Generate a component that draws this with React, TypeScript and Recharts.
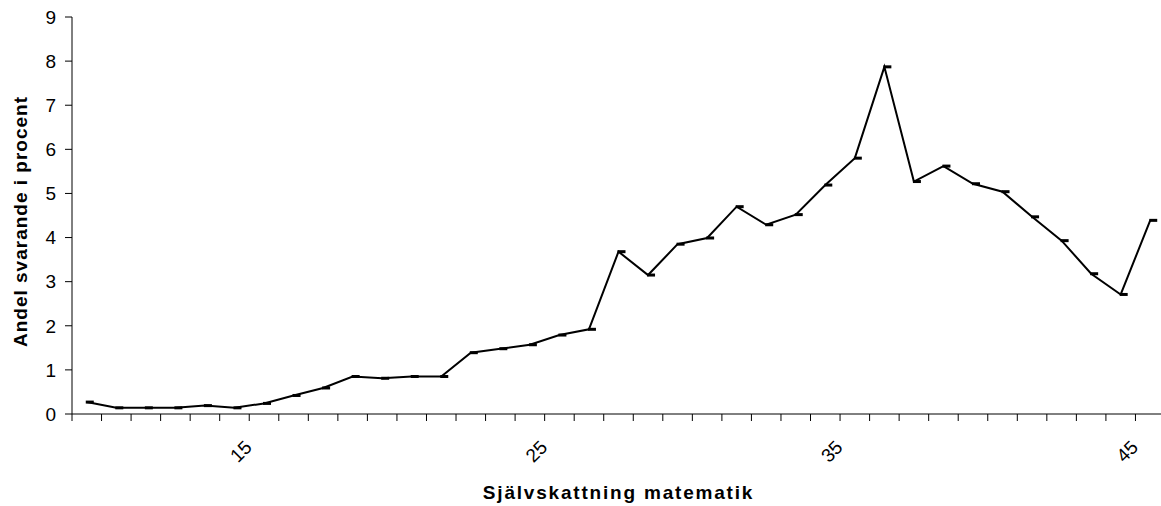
import React from "react";
import { LineChart, Line, XAxis, YAxis, Label } from "recharts";

// Självskattning matematik (categories) and share of respondents in percent
const scores = [
  10, 11, 12, 13, 14, 15, 16, 17, 18, 19, 20, 21, 22, 23, 24, 25, 26, 27, 28,
  29, 30, 31, 32, 33, 34, 35, 36, 37, 38, 39, 40, 41, 42, 43, 44, 45, 46,
];
const shares = [
  0.27, 0.14, 0.14, 0.14, 0.19, 0.14, 0.24, 0.42, 0.59, 0.85, 0.81, 0.85, 0.85,
  1.39, 1.48, 1.57, 1.79, 1.92, 3.68, 3.15, 3.85, 3.99, 4.7, 4.29, 4.52, 5.19,
  5.8, 7.87, 5.27, 5.62, 5.22, 5.04, 4.47, 3.93, 3.18, 2.71, 4.39,
];
const xLabels = [15, 25, 35, 45];
const yTicks = [0, 1, 2, 3, 4, 5, 6, 7, 8, 9];

const data = scores.map((s, i) => ({ score: s, share: shares[i] }));

// tick marks sit on the category borders, labels in the middle
const borders = [...scores.map((s) => s - 0.5), scores[scores.length - 1] + 0.5];
const xTicks = [...borders, ...xLabels];

const FONT = "'Liberation Sans', Arial, sans-serif";
const TICK = 7;

const XTick = (props: any) => {
  const { x, y, payload } = props;
  const v = payload.value;
  if (v % 1 !== 0) {
    return <line x1={x} x2={x} y1={y - TICK} y2={y} stroke="#000" strokeWidth={1} />;
  }
  const cx = x + 6.5;
  const cy = y + 30.5;
  return (
    <text
      x={cx}
      y={cy}
      textAnchor="middle"
      dominantBaseline="central"
      fontSize={19}
      fontFamily={FONT}
      fill="#000"
      transform={`rotate(-45 ${cx} ${cy})`}
    >
      {v}
    </text>
  );
};

// Excel-style dash marker, drawn just right of the vertex
const Dash = (props: any) => {
  const { cx, cy } = props;
  if (cx == null || cy == null) return null;
  return <rect x={cx - 1} y={cy - 1.5} width={8} height={3} fill="#000" />;
};

const YTitle = (props: any) => {
  const { viewBox } = props;
  const cx = 20;
  const cy = viewBox.y + viewBox.height / 2 + 6;
  return (
    <text
      x={cx}
      y={cy}
      textAnchor="middle"
      dominantBaseline="central"
      fontSize={19}
      fontWeight="bold"
      fontFamily={FONT}
      letterSpacing={1}
      fill="#000"
      transform={`rotate(-90 ${cx} ${cy})`}
    >
      Andel svarande i procent
    </text>
  );
};

export default function App() {
  return (
    <div
      style={{
        position: "absolute",
        left: 0,
        top: 0,
        width: 1161,
        height: 506,
        overflow: "hidden",
        background: "#fff",
      }}
    >
      <LineChart
        width={1165}
        height={506}
        data={data}
        margin={{ top: 17, right: 0, left: 0, bottom: 0 }}
      >
        <XAxis
          dataKey="score"
          type="number"
          domain={[borders[0], borders[borders.length - 1]]}
          ticks={xTicks}
          interval={0}
          tickLine={false}
          tickSize={TICK}
          tickMargin={0}
          tick={<XTick />}
          height={92}
          axisLine={{ stroke: "#000" }}
        >
          <Label
            value="Självskattning matematik"
            position="insideBottom"
            offset={7}
            fontSize={19}
            fontWeight="bold"
            fontFamily={FONT}
            letterSpacing={1.8}
            fill="#000"
          />
        </XAxis>
        <YAxis
          type="number"
          domain={[0, 9]}
          ticks={yTicks}
          interval={0}
          width={72}
          tickSize={TICK}
          tickMargin={9}
          tickLine={{ stroke: "#000" }}
          axisLine={{ stroke: "#000" }}
          tick={{ fill: "#000", fontSize: 19, fontFamily: FONT }}
        >
          <Label content={<YTitle />} />
        </YAxis>
        <Line
          dataKey="share"
          stroke="#000"
          strokeWidth={2}
          dot={<Dash />}
          activeDot={false}
          isAnimationActive={false}
        />
      </LineChart>
    </div>
  );
}
